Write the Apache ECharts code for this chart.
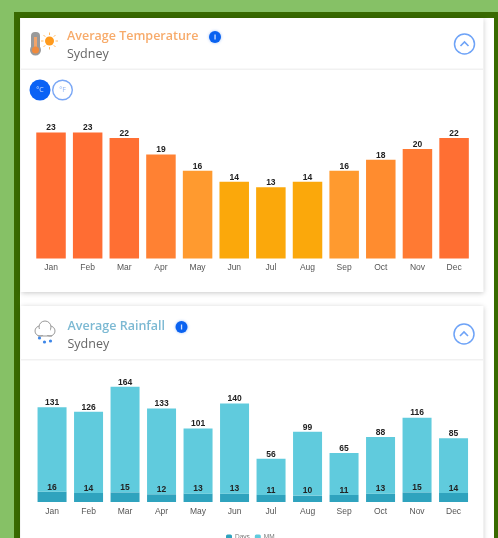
<!DOCTYPE html>
<html><head><meta charset="utf-8">
<style>html,body{margin:0;padding:0;background:#86c166;overflow:hidden}#c{width:498px;height:538px;filter:blur(0.6px)}</style>
<script src="https://cdn.jsdelivr.net/npm/echarts@6/dist/echarts.min.js"></script></head>
<body><div id="c"></div>
<script>
const months = ['Jan','Feb','Mar','Apr','May','Jun','Jul','Aug','Sep','Oct','Nov','Dec'];
const temperature = [23,23,22,19,16,14,13,14,16,18,20,22];
const temperatureColors = ['#ff6d33','#ff6d33','#ff6f33','#ff8133','#ff9a2f','#fba80b','#fba80b','#fba80b','#ff9a2f','#ff8c2f','#ff7a33','#ff6f33'];
const rainDays = [16,14,15,12,13,13,11,10,11,13,15,14];
const rainMm = [131,126,164,133,101,140,56,99,65,88,116,85];
const FONT = 'Liberation Sans';
const UI = 'Open Sans';
const chart = echarts.init(document.getElementById('c'), null, {renderer:'canvas'});

const rect = (x,y,w,h,fill,extra) => Object.assign({type:'rect',shape:{x,y,width:w,height:h},style:{fill}},extra||{});
const circ = (cx,cy,r,style) => ({type:'circle',shape:{cx,cy,r},style});
const txt = (x,y,text,fontSize,fill,extra) => ({type:'text',x,y,style:Object.assign({text,fontSize,fill,fontFamily:UI,verticalAlign:'middle'},extra||{})});
const chevron = (cx,cy) => ({type:'polyline',shape:{points:[[cx-4,cy+2],[cx,cy-2],[cx+4,cy+2]]},style:{stroke:'#6ea3f7',lineWidth:1.6,fill:null}});
const info = (cx,cy) => [circ(cx,cy,6,{fill:'#0a62f0',shadowBlur:3,shadowColor:'rgba(10,98,240,.4)'}),rect(cx-.6,cy-2.5,1.3,5,'#cfe0ff')];
const card = (y,h) => rect(20.5,y,463,h,'#fff',{style:{fill:'#fff',shadowBlur:5,shadowColor:'rgba(0,0,0,.22)',shadowOffsetY:1}});

const graphics = [
  rect(0,0,498,538,'#86c166'),
  rect(14,12,484,526,'#386a00'),
  rect(20,18,474,520,'#ffffff'),
  card(18,274), card(306,240),
  rect(21,68.5,463,1.6,'#f1f1f1'), rect(21,359,463,1.6,'#f1f1f1'),
  // thermometer and sun
  rect(31,32,9,19,'#9a9a9a',{shape:{x:31,y:32,width:9,height:19,r:4}}),
  circ(35.5,50,5.5,{fill:'#9a9a9a'}),
  rect(34,37,3,13,'#f2a46a'), circ(35.5,50,3.5,{fill:'#f08a3c'}),
  circ(49.5,41,4.5,{fill:'#ff9a1c'}),
  ...[0,45,90,135,180,225,270,315].map(a => {
    const r=a*Math.PI/180;
    return {type:'line',shape:{x1:49.5+6*Math.cos(r),y1:41+6*Math.sin(r),x2:49.5+8.5*Math.cos(r),y2:41+8.5*Math.sin(r)},style:{stroke:'#ffbb66',lineWidth:1}};
  }),
  txt(67,36.5,'Average Temperature',12.5,'#f7ab6b',{fontWeight:600}),
  txt(67,54,'Sydney',12.5,'#666'),
  ...info(215,37),
  circ(464.5,44,10,{fill:'#fff',stroke:'#6ea3f7',lineWidth:1.5}), chevron(464.5,44),
  // unit toggles
  circ(40,90,10.5,{fill:'#0a62f5'}),
  txt(40,90,'°C',7,'#cfe0ff',{align:'center'}),
  circ(62.5,90,9.8,{fill:'#fff',stroke:'#7aa7f5',lineWidth:1.4}),
  txt(62.5,90,'°F',7,'#8fb4f5',{align:'center'}),
  // cloud and rain drops
  circ(40,331,5,{fill:'#fff',stroke:'#999',lineWidth:1}),
  circ(50,331,5,{fill:'#fff',stroke:'#999',lineWidth:1}),
  circ(45,327,6,{fill:'#fff',stroke:'#999',lineWidth:1}),
  rect(39,329,11,6,'#fff'),
  {type:'line',shape:{x1:38,y1:336,x2:52,y2:336},style:{stroke:'#999',lineWidth:1}},
  circ(39.5,338,1.6,{fill:'#3d86e8'}), circ(44.5,342,1.6,{fill:'#3d86e8'}), circ(50.5,341,1.6,{fill:'#3d86e8'}),
  txt(67.5,326.5,'Average Rainfall',12.5,'#7cb9d3',{fontWeight:600}),
  txt(67.5,344,'Sydney',12.5,'#666'),
  ...info(181.5,327),
  circ(464,334,10,{fill:'#fff',stroke:'#6ea3f7',lineWidth:1.5}), chevron(464,334)
];

const catAxis = (gridIndex) => ({type:'category',gridIndex,data:months,
  axisLine:{show:false},axisTick:{show:false},
  axisLabel:{fontFamily:FONT,fontSize:8.5,color:'#555',margin:5,interval:0}});
const valAxis = (gridIndex,max) => ({type:'value',gridIndex,min:0,max,show:false,splitLine:{show:false}});
const barLabel = {show:true,position:'top',distance:0,fontFamily:FONT,fontSize:8.5,fontWeight:'bold',color:'#222'};

chart.setOption({
  animation:false,
  graphic:{elements:graphics.map(g=>Object.assign({silent:true,z:-1},g))},
  grid:[
    {left:32.7,right:25.6,top:121.5,height:137},
    {left:33.8,right:26.2,top:373.2,height:128.8}
  ],
  xAxis:[catAxis(0),catAxis(1)],
  yAxis:[valAxis(0,25),valAxis(1,200)],
  legend:{data:['Days','MM'],left:226,top:534,padding:0,itemWidth:6,itemHeight:6,itemGap:5,
    textStyle:{fontFamily:FONT,fontSize:6.5,color:'#777',padding:[0,0,0,-2]}},
  series:[
    {name:'Temperature',type:'bar',xAxisIndex:0,yAxisIndex:0,barWidth:29.5,data:temperature,
      itemStyle:{color:p=>temperatureColors[p.dataIndex]},label:barLabel},
    {name:'Days',type:'bar',stack:'rain',xAxisIndex:1,yAxisIndex:1,barWidth:29,data:rainDays,
      itemStyle:{color:'#2fa3be'},label:barLabel},
    {name:'MM',type:'bar',stack:'rain',xAxisIndex:1,yAxisIndex:1,barWidth:29,data:rainMm,
      itemStyle:{color:'#60cbdd'},label:barLabel}
  ]
});
</script></body></html>
